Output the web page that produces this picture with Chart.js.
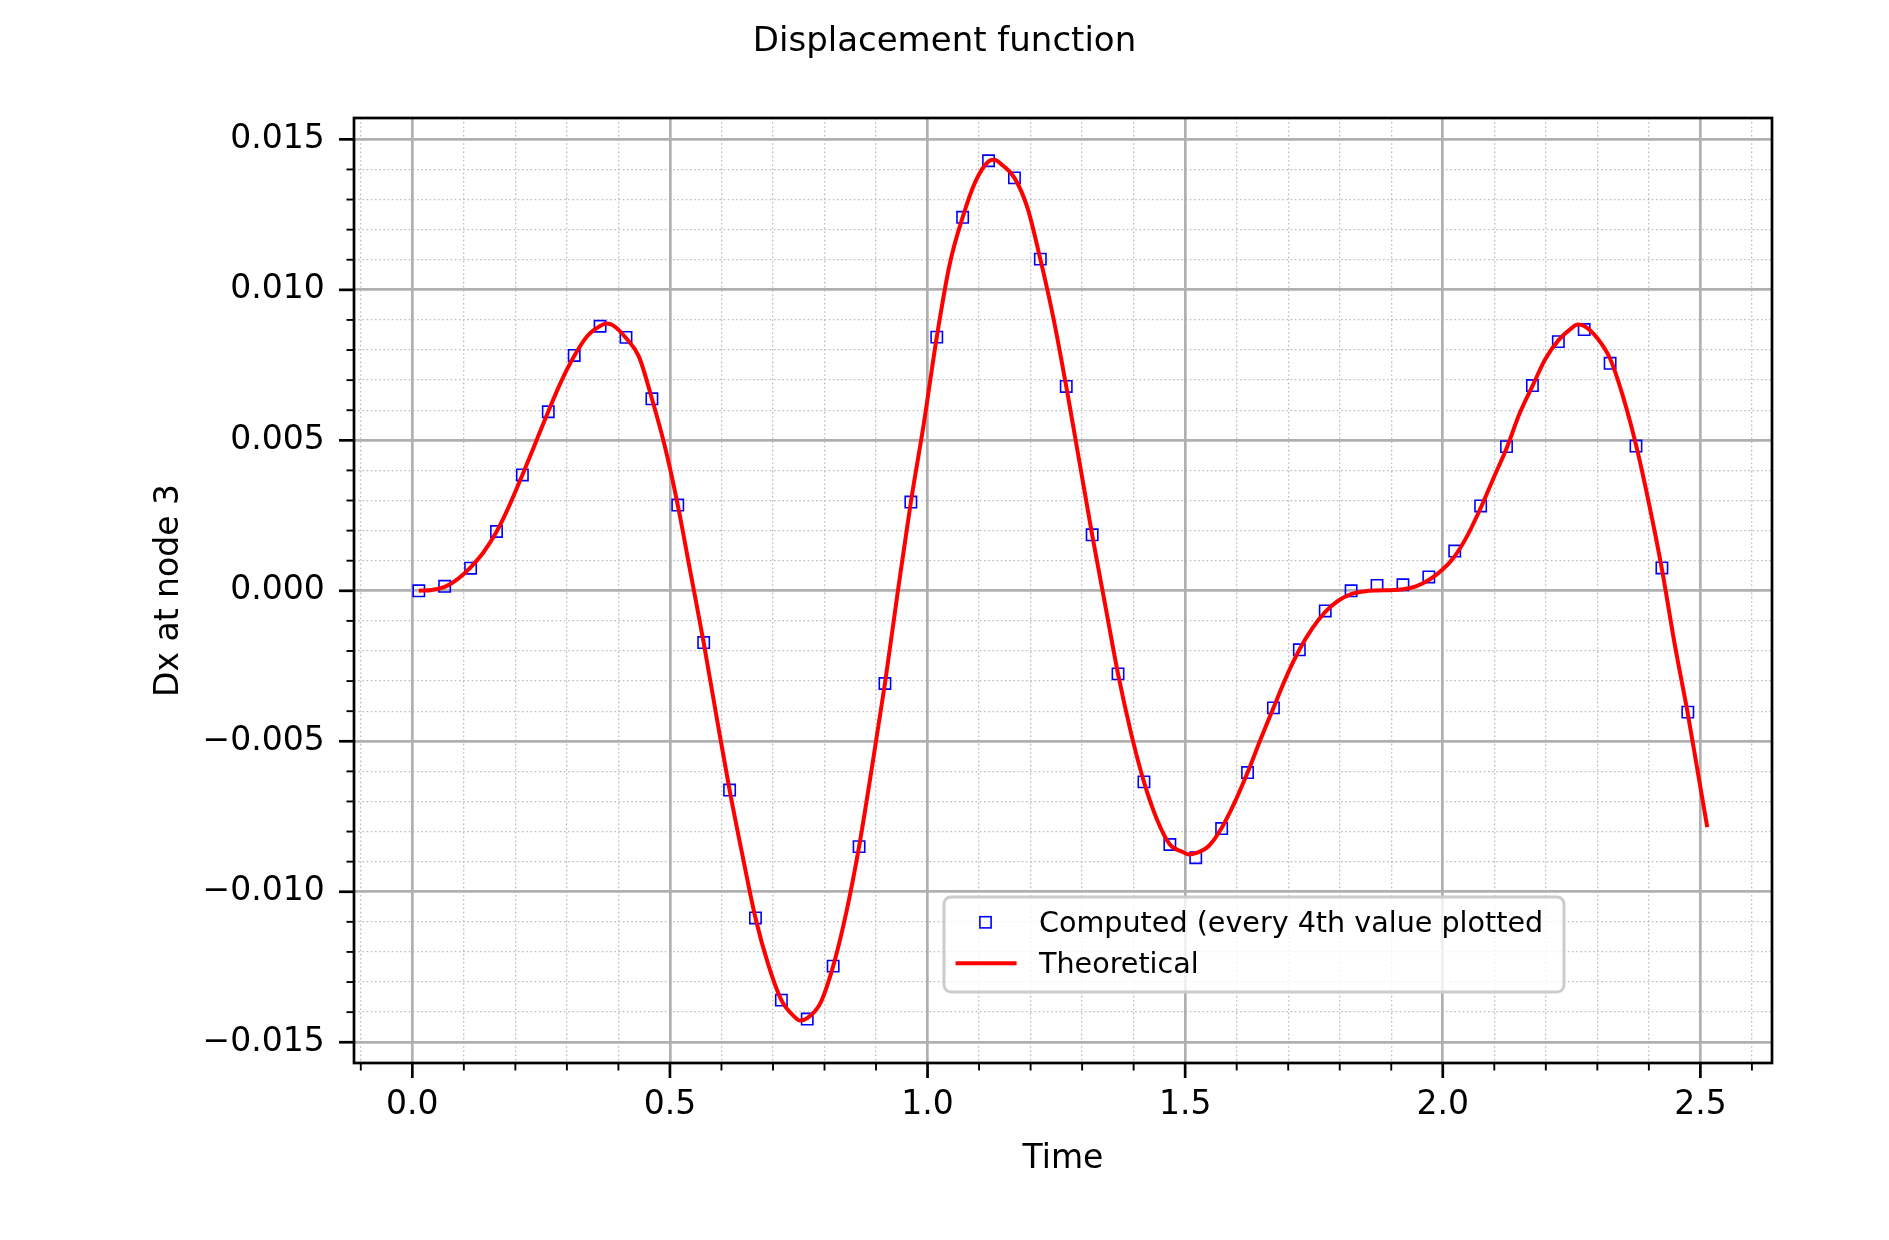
<!DOCTYPE html>
<html>
<head>
<meta charset="utf-8">
<title>Displacement function</title>
<script src="https://cdn.jsdelivr.net/npm/chart.js@4.4.1/dist/chart.umd.min.js"></script>
<style>
  html, body { margin: 0; padding: 0; background: #fff; }
  #wrap { width: 1889px; height: 1240px; }
</style>
</head>
<body>
<div id="wrap"><canvas id="dispChart" width="1889" height="1240"></canvas></div>
<script>
// computed values, every 4th step of the solver
const computedTime = [
  0.0126, 0.0628, 0.1131, 0.1634, 0.2136, 0.2639, 0.3142, 0.3644, 0.4147, 0.4650,
  0.5152, 0.5655, 0.6158, 0.6660, 0.7163, 0.7665, 0.8168, 0.8671, 0.9173, 0.9676,
  1.0179, 1.0681, 1.1184, 1.1687, 1.2189, 1.2692, 1.3195, 1.3697, 1.4200, 1.4703,
  1.5205, 1.5708, 1.6211, 1.6713, 1.7216, 1.7719, 1.8221, 1.8724, 1.9227, 1.9729,
  2.0232, 2.0735, 2.1237, 2.1740, 2.2243, 2.2745, 2.3248, 2.3750, 2.4253, 2.4756
];
const computedDx = [
  0.00000, 0.00015, 0.00075, 0.00197, 0.00385, 0.00595, 0.00782, 0.00879, 0.00842, 0.00638,
  0.00285, -0.00172, -0.00662, -0.01087, -0.01360, -0.01423, -0.01247, -0.00850, -0.00308, 0.00295,
  0.00843, 0.01241, 0.01429, 0.01372, 0.01102, 0.00679, 0.00186, -0.00276, -0.00635, -0.00843,
  -0.00887, -0.00790, -0.00604, -0.00389, -0.00196, -0.00067, 0.00000, 0.00018, 0.00020, 0.00046,
  0.00132, 0.00282, 0.00479, 0.00682, 0.00828, 0.00868, 0.00756, 0.00481, 0.00076, -0.00403
];

// theoretical curve
const theoryTime = [
  0.0126, 0.0377, 0.0628, 0.0880, 0.1131, 0.1382, 0.1634, 0.1885, 0.2136, 0.2388,
  0.2639, 0.2890, 0.3142, 0.3393, 0.3644, 0.3770, 0.3896, 0.4147, 0.4398, 0.4650,
  0.4901, 0.5152, 0.5404, 0.5655, 0.5906, 0.6158, 0.6409, 0.6660, 0.6912, 0.7163,
  0.7414, 0.7523, 0.7665, 0.7917, 0.8168, 0.8419, 0.8671, 0.8922, 0.9173, 0.9425,
  0.9676, 0.9927, 1.0179, 1.0430, 1.0681, 1.0933, 1.1184, 1.1290, 1.1435, 1.1687,
  1.1938, 1.2189, 1.2441, 1.2692, 1.2943, 1.3195, 1.3446, 1.3697, 1.3949, 1.4200,
  1.4451, 1.4703, 1.4954, 1.5080, 1.5205, 1.5457, 1.5708, 1.5959, 1.6211, 1.6462,
  1.6713, 1.6965, 1.7216, 1.7467, 1.7719, 1.7970, 1.8221, 1.8473, 1.8724, 1.8975,
  1.9227, 1.9478, 1.9729, 1.9981, 2.0232, 2.0483, 2.0735, 2.0986, 2.1237, 2.1489,
  2.1740, 2.1991, 2.2243, 2.2494, 2.2620, 2.2745, 2.2997, 2.3248, 2.3499, 2.3750,
  2.4002, 2.4253, 2.4504, 2.4756, 2.5007, 2.5133
];
const theoryDx = [
  0.00000, 0.00003, 0.00013, 0.00039, 0.00078, 0.00128, 0.00196, 0.00284, 0.00385, 0.00490,
  0.00596, 0.00696, 0.00780, 0.00846, 0.00880, 0.00888, 0.00882, 0.00840, 0.00778, 0.00638,
  0.00480, 0.00285, 0.00056, -0.00172, -0.00420, -0.00662, -0.00880, -0.01087, -0.01244, -0.01360,
  -0.01415, -0.01428, -0.01420, -0.01371, -0.01247, -0.01072, -0.00850, -0.00585, -0.00308, 0.00000,
  0.00295, 0.00555, 0.00843, 0.01085, 0.01241, 0.01361, 0.01427, 0.01432, 0.01417, 0.01372,
  0.01273, 0.01102, 0.00908, 0.00679, 0.00433, 0.00186, -0.00045, -0.00276, -0.00472, -0.00635,
  -0.00759, -0.00843, -0.00868, -0.00876, -0.00872, -0.00848, -0.00788, -0.00704, -0.00604, -0.00494,
  -0.00389, -0.00285, -0.00196, -0.00125, -0.00070, -0.00033, -0.00011, -0.00002, 0.00001, 0.00002,
  0.00005, 0.00015, 0.00036, 0.00068, 0.00115, 0.00185, 0.00275, 0.00375, 0.00473, 0.00588,
  0.00680, 0.00770, 0.00832, 0.00872, 0.00885, 0.00880, 0.00840, 0.00771, 0.00645, 0.00485,
  0.00290, 0.00072, -0.00180, -0.00409, -0.00660, -0.00785
];

const xMajorTicks = [0, 0.5, 1.0, 1.5, 2.0, 2.5];
const yMajorTicks = [-0.015, -0.010, -0.005, 0, 0.005, 0.010, 0.015];
const xRange = [-0.1132, 2.639];
const yRange = [-0.01569, 0.01571];

// minor ticks: every 0.1 on x, every 0.001 on y (majors left out)
const xMinorTicks = [];
for (let i = -1; i <= 26; i++) if (i % 5 !== 0) xMinorTicks.push(i / 10);
const yMinorTicks = [];
for (let i = -15; i <= 15; i++) if (i % 5 !== 0) yMinorTicks.push(i / 1000);

const FONT = 'DejaVu Sans';
Chart.defaults.font.family = FONT;
Chart.defaults.color = '#000';

function fmtY(v) {
  const s = Math.abs(v).toFixed(3);
  return v < -1e-9 ? '\u2212' + s : s;
}
function fmtX(v) {
  const s = Math.abs(v).toFixed(1);
  return v < -1e-9 ? '\u2212' + s : s;
}

// black tick marks outside the axes + the full frame
const axesFrame = {
  id: 'axesFrame',
  afterDraw(chart) {
    const ctx = chart.ctx, a = chart.chartArea;
    const xs = chart.scales.x, ys = chart.scales.y;
    ctx.save();
    ctx.strokeStyle = '#000';
    function mark(x1, y1, x2, y2, w) {
      ctx.lineWidth = w;
      ctx.beginPath();
      ctx.moveTo(x1, y1);
      ctx.lineTo(x2, y2);
      ctx.stroke();
    }
    xMajorTicks.forEach(v => { const p = xs.getPixelForValue(v); mark(p, a.bottom, p, a.bottom + 15, 2.7); });
    xMinorTicks.forEach(v => { const p = xs.getPixelForValue(v); mark(p, a.bottom, p, a.bottom + 7.5, 1.9); });
    yMajorTicks.forEach(v => { const p = ys.getPixelForValue(v); mark(a.left, p, a.left - 15, p, 2.7); });
    yMinorTicks.forEach(v => { const p = ys.getPixelForValue(v); mark(a.left, p, a.left - 7.5, p, 1.9); });
    ctx.lineWidth = 2.7;
    ctx.strokeRect(a.left, a.top, a.right - a.left, a.bottom - a.top);
    ctx.restore();
  }
};

// legend box in the lower middle of the axes, like the original
const boxLegend = {
  id: 'boxLegend',
  afterDraw(chart) {
    const ctx = chart.ctx, a = chart.chartArea;
    const bx = a.left + 590, by = a.top + 779, bw = 620, bh = 95;
    ctx.save();
    ctx.fillStyle = 'rgba(255,255,255,0.8)';
    ctx.strokeStyle = '#cccccc';
    ctx.lineWidth = 3;
    ctx.beginPath();
    ctx.roundRect(bx, by, bw, bh, 7);
    ctx.fill();
    ctx.stroke();

    // computed entry
    ctx.strokeStyle = '#0000ff';
    ctx.lineWidth = 1.6;
    ctx.strokeRect(bx + 41.5 - 5.6, by + 25.3 - 5.6, 11.2, 11.2);
    // theoretical entry
    ctx.strokeStyle = '#ff0000';
    ctx.lineWidth = 4;
    ctx.beginPath();
    ctx.moveTo(bx + 11.6, by + 66.3);
    ctx.lineTo(bx + 72.6, by + 66.3);
    ctx.stroke();

    ctx.fillStyle = '#000';
    ctx.font = '28.6px "' + FONT + '"';
    ctx.textBaseline = 'alphabetic';
    ctx.textAlign = 'left';
    ctx.fillText('Computed (every 4th value plotted', bx + 95, by + 35.3);
    ctx.fillText('Theoretical', bx + 95, by + 76.3);
    ctx.restore();
  }
};

const ctx = document.getElementById('dispChart').getContext('2d');

const computedPoints = computedTime.map((t, i) => ({ x: t, y: computedDx[i] }));
const theoryPoints = theoryTime.map((t, i) => ({ x: t, y: theoryDx[i] }));

const myChart = new Chart(ctx, {
  type: 'scatter',
  data: {
    datasets: [
      {
        label: 'Computed (every 4th value plotted',
        data: computedPoints,
        order: 1,
        showLine: false,
        pointStyle: 'rect',
        pointRadius: 8,
        pointBorderWidth: 1.6,
        pointBorderColor: '#0000ff',
        pointBackgroundColor: 'rgba(0,0,0,0)'
      },
      {
        label: 'Theoretical',
        data: theoryPoints,
        order: 0,
        showLine: true,
        borderColor: '#ff0000',
        borderWidth: 4,
        pointRadius: 0,
        cubicInterpolationMode: 'monotone'
      }
    ]
  },
  options: {
    responsive: false,
    animation: false,
    devicePixelRatio: 1,
    events: [],
    layout: { padding: 0 },
    plugins: {
      legend: { display: false },
      tooltip: { enabled: false },
      title: {
        display: true,
        text: 'Displacement function',
        font: { size: 34, weight: 'normal' },
        color: '#000',
        padding: { top: 21.5, bottom: 55.7 }
      }
    },
    scales: {
      xMinor: {
        type: 'linear',
        position: 'bottom',
        min: xRange[0], max: xRange[1],
        afterBuildTicks: s => { s.ticks = xMinorTicks.map(v => ({ value: v })); },
        afterFit: s => { s.height = 0; },
        ticks: { display: false, autoSkip: false },
        border: { display: false, dash: [1.6, 2.6] },
        grid: { color: '#bdbdbd', lineWidth: 1.3, drawTicks: false, z: -2 }
      },
      // minor y grid, kept on the right so it also holds the right margin
      yMinor: {
        type: 'linear',
        position: 'right',
        min: yRange[0], max: yRange[1],
        afterBuildTicks: s => { s.ticks = yMinorTicks.map(v => ({ value: v })); },
        afterFit: s => { s.width = 117; },
        ticks: { display: false, autoSkip: false },
        border: { display: false, dash: [1.6, 2.6] },
        grid: { color: '#bdbdbd', lineWidth: 1.3, drawTicks: false, z: -2 }
      },
      x: {
        type: 'linear',
        position: 'bottom',
        min: xRange[0], max: xRange[1],
        afterBuildTicks: s => { s.ticks = xMajorTicks.map(v => ({ value: v })); },
        afterFit: s => { s.height = 177; },
        ticks: { autoSkip: false, maxRotation: 0, padding: 23, font: { size: 33 }, color: '#000', callback: v => fmtX(v) },
        border: { display: false },
        grid: { color: '#b0b0b0', lineWidth: 2.7, drawTicks: false, z: -1 },
        title: { display: true, text: 'Time', font: { size: 33 }, color: '#000', padding: { top: 0, bottom: 60.7 } }
      },
      y: {
        type: 'linear',
        position: 'left',
        min: yRange[0], max: yRange[1],
        afterBuildTicks: s => { s.ticks = yMajorTicks.map(v => ({ value: v })); },
        afterFit: s => { s.width = 354; },
        ticks: { autoSkip: false, padding: 29.3, font: { size: 33 }, color: '#000', callback: v => fmtY(v) },
        border: { display: false },
        grid: { color: '#b0b0b0', lineWidth: 2.7, drawTicks: false, z: -1 },
        title: { display: true, text: 'Dx at node 3', font: { size: 33 }, color: '#000', padding: { top: 149.7, bottom: 0 } }
      }
    }
  },
  plugins: [axesFrame, boxLegend]
});
</script>
</body>
</html>
